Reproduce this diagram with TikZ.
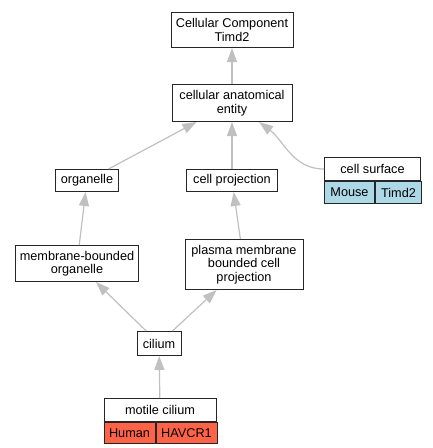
\documentclass[tikz,border=0pt]{standalone}
\usepackage{fontspec}
\setmainfont{Liberation Sans}
\usetikzlibrary{arrows.meta,positioning}
\definecolor{edgegray}{RGB}{192,192,192}
\definecolor{humanred}{RGB}{255,99,71}
\definecolor{mouseblue}{RGB}{173,216,230}

\begin{document}
\begin{tikzpicture}[
    term/.style={rectangle, draw=black!85, line width=1pt, inner sep=0pt, align=center, font=\fontsize{12.7}{13.5}\selectfont},
    gene/.style={term, anchor=north west},
    edge/.style={draw=edgegray, line width=1.2pt, -{Triangle[length=14pt,width=10pt]}}
]
\useasboundingbox (0pt,0pt) rectangle (433pt,-448pt);

% Root and top terms
\node[term, minimum width=122pt, minimum height=35pt] (cc) at (232pt,-30pt) {Cellular Component\\Timd2};
\node[term, minimum width=120pt, minimum height=37pt, below=36pt of cc] (cae) {cellular anatomical\\entity};

% Second level
\node[term, minimum width=91pt, minimum height=22pt, below=47pt of cae] (cellproj) {cell projection};
\node[term, minimum width=63pt, minimum height=22pt, left=67pt of cellproj] (organelle) {organelle};
\node[term, minimum width=96pt, minimum height=23pt, right=46pt of cellproj, yshift=11.5pt] (surface) {cell surface};

% Annotations for cell surface
\node[gene, fill=mouseblue, minimum width=50pt, minimum height=22pt] (surfmouse) at (surface.south west) {Mouse};
\node[gene, fill=mouseblue, minimum width=46pt, minimum height=22pt] (surftimd) at (surfmouse.north east) {Timd2};

% Third level
\node[term, minimum width=123pt, minimum height=36pt, below=53pt of organelle, xshift=-10pt] (mbo) {membrane-bounded\\organelle};
\node[term, minimum width=118pt, minimum height=50pt, below=47pt of cellproj, xshift=12pt] (pmbcp) {plasma membrane\\bounded cell\\projection};

% Cilia
\node[term, minimum width=44pt, minimum height=24pt, below=49pt of mbo, xshift=82pt] (cilium) {cilium};
\node[term, minimum width=112pt, minimum height=23pt, below=42pt of cilium, xshift=1pt] (motile) {motile cilium};

% Annotations for motile cilium
\node[gene, fill=humanred, minimum width=51pt, minimum height=21pt] (motilehuman) at (motile.south west) {Human};
\node[gene, fill=humanred, minimum width=61pt, minimum height=21pt] (motilehavcr) at (motilehuman.north east) {HAVCR1};

% Arrows to parents
\draw[edge] (cae) -- (cc);
\draw[edge] (organelle) -- (cae);
\draw[edge] (cellproj) -- (cae);
\draw[edge] (surface.west) to[out=180, in=-37] (cae.-35);
\draw[edge] (mbo) -- (organelle);
\draw[edge] (pmbcp) -- (cellproj);
\draw[edge] (cilium) -- (mbo);
\draw[edge] (cilium) -- (pmbcp);
\draw[edge] (motile) -- (cilium);

\end{tikzpicture}
\end{document}
